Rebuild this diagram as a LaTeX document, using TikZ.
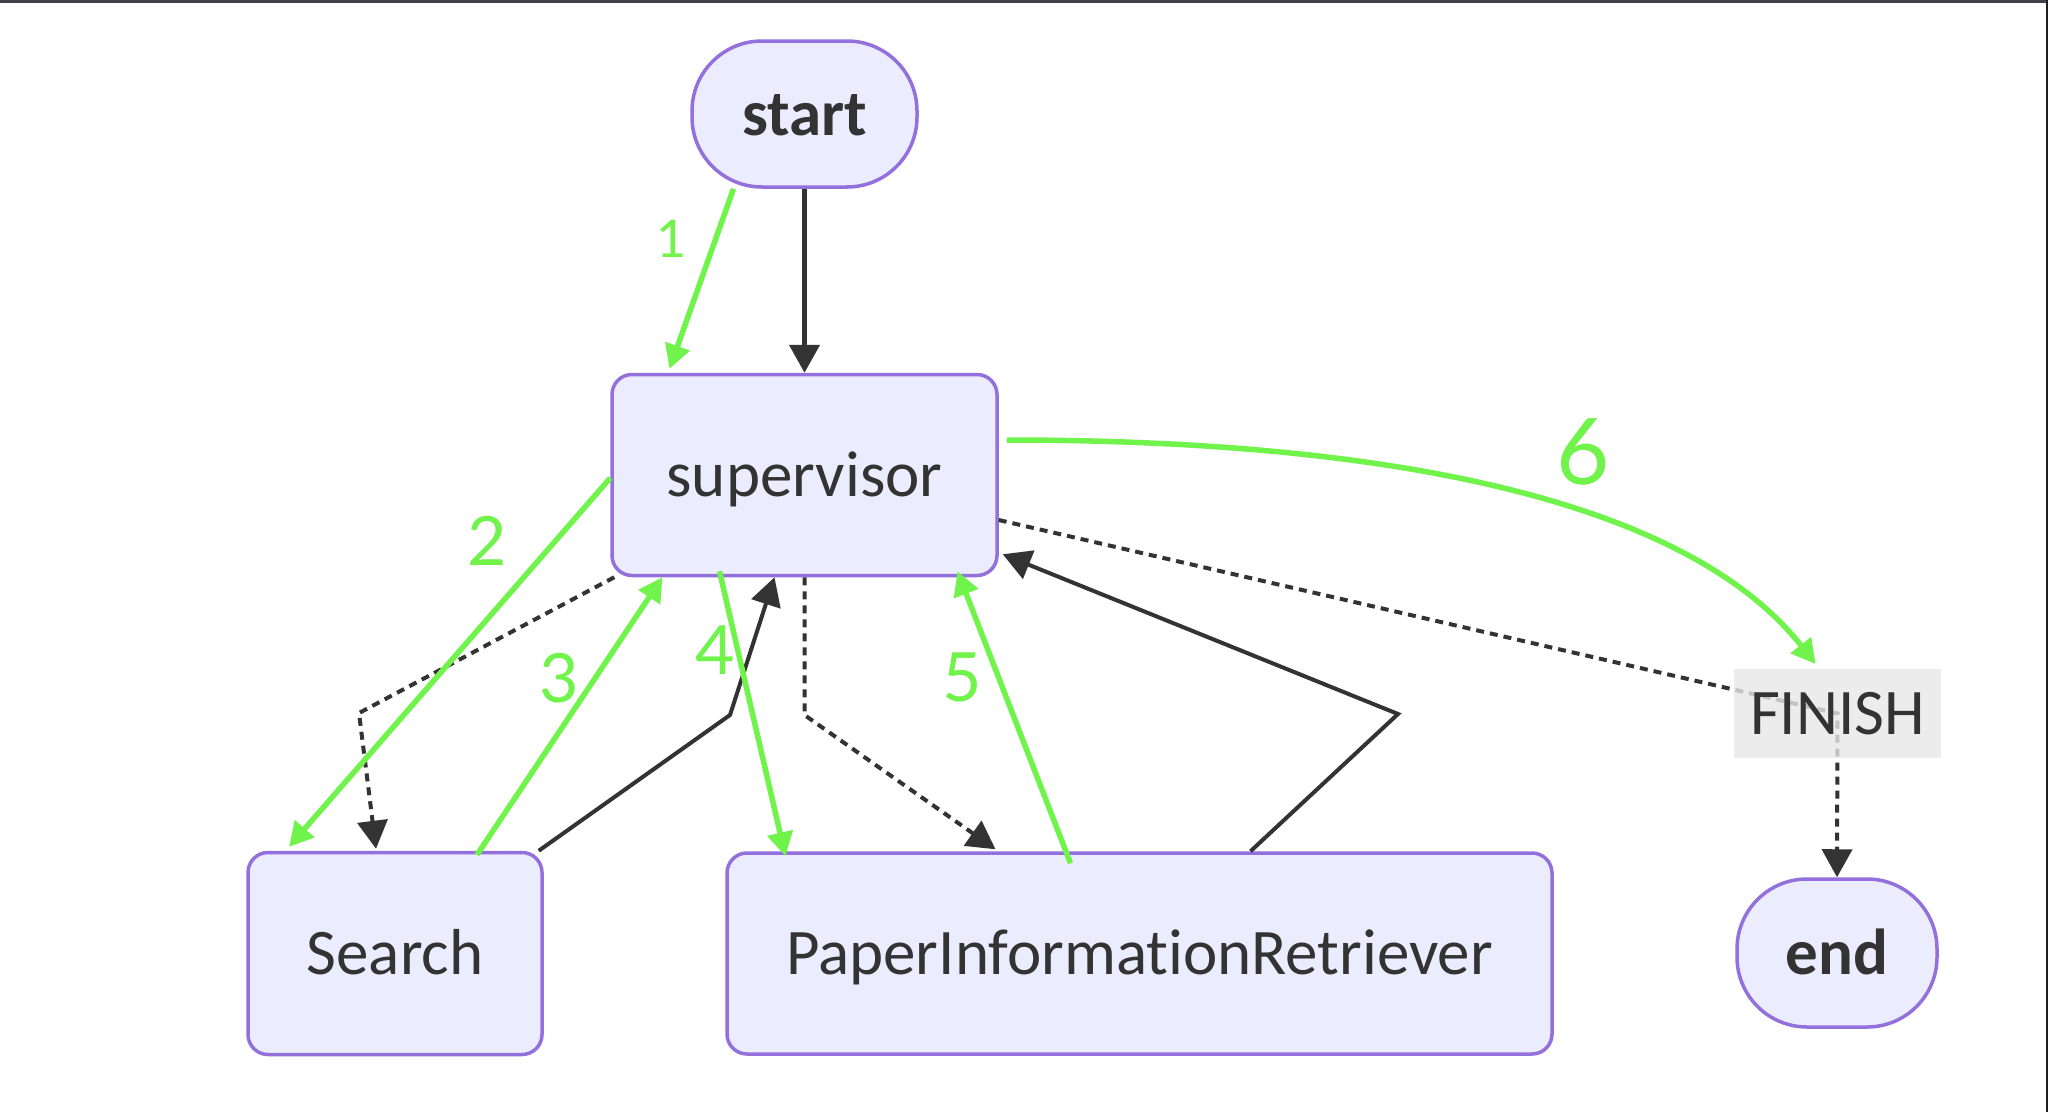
\documentclass[tikz,border=0pt]{standalone}
\usepackage{fontspec}
\setmainfont{Carlito}[Ligatures={NoCommon,NoContextual}]
\newfontfamily\handfont{Lato}
\usetikzlibrary{arrows.meta,positioning}

\definecolor{nodefill}{HTML}{ECECFF}
\definecolor{nodeline}{HTML}{9370DB}
\definecolor{ink}{HTML}{333333}
\definecolor{annogreen}{HTML}{70F34A}
\definecolor{lblgray}{HTML}{E8E8E8}
\definecolor{topbar}{HTML}{3F424B}
\definecolor{sidebar}{HTML}{1E1F22}

\tikzset{
  box/.style={draw=nodeline, fill=nodefill, line width=3.5pt, rounded corners=20pt,
    text=ink, font=\fontsize{65}{78}\selectfont, inner sep=0pt,
    text height=42pt, text depth=0pt},
  term/.style={box, rounded corners=70pt, font=\fontsize{65}{78}\selectfont\bfseries},
  lbl/.style={fill=lblgray, fill opacity=0.8, text opacity=1, text=ink,
    font=\fontsize{65}{78}\selectfont, inner sep=0pt, text height=42pt, text depth=0pt,
    minimum width=207pt, minimum height=89pt},
  flow/.style={draw=ink, line width=4.5pt, -{Triangle[width=30pt,length=28pt]}},
  cond/.style={flow, line width=4pt, dash pattern=on 8pt off 6pt},
  note/.style={draw=annogreen, line width=5.5pt, -{Triangle[width=25pt,length=24pt]}},
  num/.style={text=annogreen, font=\handfont\fontsize{68}{68}\selectfont, inner sep=0pt},
}

\begin{document}
\begin{tikzpicture}[x=1pt, y=-1pt]
  \useasboundingbox (0,0) rectangle (2048,1112);
  \fill[white] (0,0) rectangle (2048,1112);
  \fill[topbar] (0,0) rectangle (2048,2.5);
  \fill[sidebar] (2045.5,0) rectangle (2048,1112);

  \node[term, minimum width=225pt, minimum height=146pt] (start) at (804.5,114) {start};
  \node[box, minimum width=385pt, minimum height=201pt] (sup) at (804.5,475) {supervisor};
  \node[box, minimum width=294pt, minimum height=202pt] (search) at (395,953.5) {Search};
  \node[box, minimum width=825pt, minimum height=201pt] (pir) at (1139.5,953.5) {PaperInformationRetriever};
  \node[term, minimum width=200pt, minimum height=148pt] (stop) at (1837,953) {end};

  \draw[flow] (start.south) -- (sup.north);
  \draw[cond] ([xshift=4pt]sup.south west) -- (359,713) -- ([xshift=-19pt,yshift=2pt]search.north);
  \draw[flow, line width=4pt] ([xshift=-5pt]search.north east) -- (730,715) -- ([xshift=-30pt]sup.south);
  \draw[cond] (sup.south) -- (804.5,715) -- ([xshift=-144pt,yshift=2pt]pir.north);
  \draw[flow, line width=4pt] ([xshift=111pt]pir.north) -- (1398,714) -- ([xshift=4pt,yshift=23pt]sup.south east);
  \draw[cond] ([yshift=-45pt]sup.east) -- (1837.5,713.5) node[lbl] (finish) {FINISH} -- (stop.north);

  \draw[note] ([xshift=-71pt]start.south) -- ([xshift=-135pt,yshift=4pt]sup.north);
  \draw[note] ([yshift=-3pt]sup.west) -- ([xshift=-106pt,yshift=4pt]search.north);
  \draw[note] ([xshift=82pt,yshift=-4pt]search.north) -- ([xshift=-142pt]sup.south);
  \draw[note] ([xshift=-85pt,yshift=6pt]sup.south) -- ([xshift=-354pt,yshift=-5pt]pir.north);
  \draw[note] ([xshift=-69pt,yshift=-12pt]pir.north) -- ([xshift=153pt,yshift=6pt]sup.south);
  \draw[note] ([xshift=8pt,yshift=35pt]sup.east) .. controls +(450,0) and +(-111,-142) .. ([xshift=-22pt,yshift=3pt]finish.north);

  \node[num, font=\handfont\fontsize{52}{52}\selectfont] (n1) at (672,239) {1};
  \node[num] (n2) at (487,541) {2};
  \node[num] (n3) at (559,678) {3};
  \node[num] (n4) at (715,650) {4};
  \node[num] (n5) at (962,677) {5};
  \node[num, font=\handfont\fontsize{92}{92}\selectfont] (n6) at (1583,452) {6};
\end{tikzpicture}
\end{document}
